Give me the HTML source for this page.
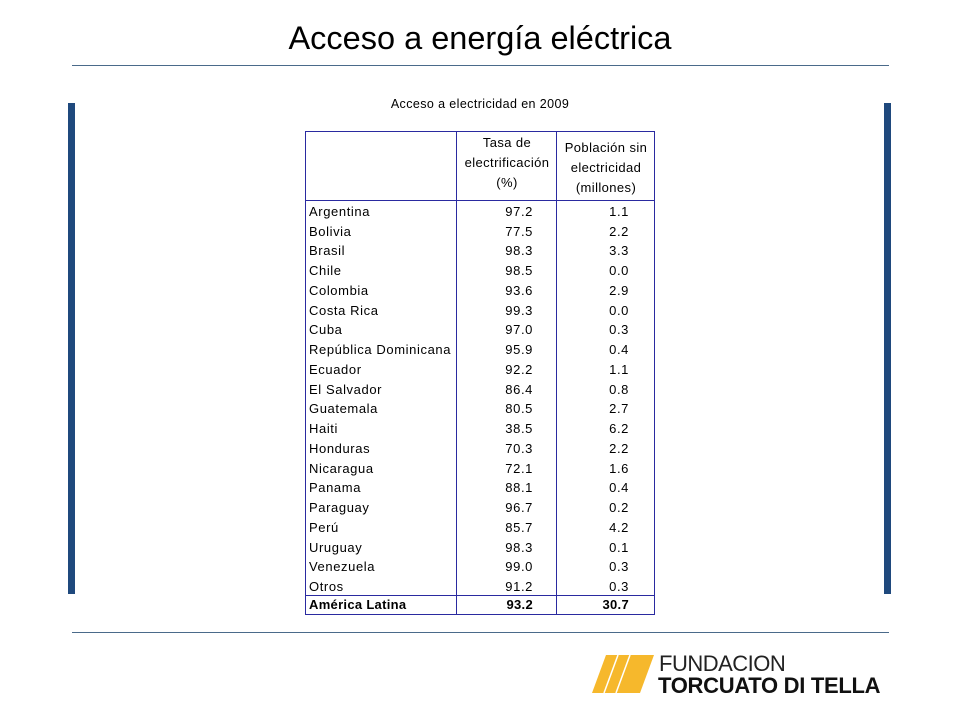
<!DOCTYPE html>
<html><head><meta charset="utf-8"><style>
body{margin:0;width:960px;height:720px;background:#fff;position:relative;overflow:hidden;font-family:"Liberation Sans",sans-serif}
.a{position:absolute}
.t{font-size:13px;color:#000;letter-spacing:0.4px}
.row{position:absolute;left:305px;width:350px;height:19.74px}
.row span{position:absolute;top:3px;font-size:13px;letter-spacing:0.6px}
</style></head><body>
<div class="a" style="left:0;width:960px;top:20px;text-align:center;font-size:32.5px;font-family:'Liberation Sans',sans-serif">Acceso a energía eléctrica</div>
<div class="a" style="left:72px;top:65px;width:817px;height:1px;background:#4a6a8a"></div>
<div class="a" style="left:72px;top:632px;width:817px;height:1px;background:#4a6a8a"></div>
<div class="a" style="left:68px;top:103px;width:7px;height:491px;background:#1f497d"></div>
<div class="a" style="left:884px;top:103px;width:7px;height:491px;background:#1f497d"></div>
<div class="a t" style="left:305px;width:350px;top:97px;text-align:center;font-size:12.5px">Acceso a electricidad en 2009</div>
<div class="a" style="left:305px;top:131px;width:350px;height:484px;border:1px solid #2a2aa0;box-sizing:border-box"></div>
<div class="a" style="left:456px;top:131px;width:1px;height:484px;background:#2a2aa0"></div>
<div class="a" style="left:556px;top:131px;width:1px;height:484px;background:#2a2aa0"></div>
<div class="a" style="left:305px;top:200px;width:350px;height:1px;background:#2a2aa0"></div>
<div class="a" style="left:305px;top:595px;width:350px;height:1px;background:#2a2aa0"></div>
<div class="a t" style="left:457px;width:100px;top:133px;text-align:center;line-height:20px">Tasa de<br>electrificación<br>(%)</div>
<div class="a t" style="left:557px;width:98px;top:138px;text-align:center;line-height:20px">Población sin<br>electricidad<br>(millones)</div>
<div id="rows"></div>
<div class="a" style="left:592px;top:655px;width:62px;height:38px">
<svg width="62" height="38"><polygon points="14,0 62,0 48,38 0,38" fill="#f6b82c"/><line x1="26" y1="0" x2="12" y2="38" stroke="#fff" stroke-width="1.5"/><line x1="38" y1="0" x2="24" y2="38" stroke="#fff" stroke-width="1.5"/></svg></div>
<div class="a" style="left:659px;top:651px;font-size:22px;letter-spacing:-0.5px;color:#222">FUNDACION</div>
<div class="a" style="left:658px;top:673px;font-size:22px;font-weight:bold;letter-spacing:-0.3px;color:#111">TORCUATO DI TELLA</div>
<script>
const countries=["Argentina","Bolivia","Brasil","Chile","Colombia","Costa Rica","Cuba","República Dominicana","Ecuador","El Salvador","Guatemala","Haiti","Honduras","Nicaragua","Panama","Paraguay","Perú","Uruguay","Venezuela","Otros","América Latina"];
const rates=["97.2","77.5","98.3","98.5","93.6","99.3","97.0","95.9","92.2","86.4","80.5","38.5","70.3","72.1","88.1","96.7","85.7","98.3","99.0","91.2","93.2"];
const pops=["1.1","2.2","3.3","0.0","2.9","0.0","0.3","0.4","1.1","0.8","2.7","6.2","2.2","1.6","0.4","0.2","4.2","0.1","0.3","0.3","30.7"];
const c=document.getElementById('rows');
countries.forEach((n,i)=>{
const r=document.createElement('div');r.className='row';


const total=i===countries.length-1;
r.style.top=(total?596:201+i*19.74)+'px';
r.innerHTML='<span style="left:4px">'+n+'</span><span style="right:122px">'+rates[i]+'</span><span style="right:26px">'+pops[i]+'</span>';
if(total)r.querySelectorAll('span').forEach(s=>{s.style.fontWeight='bold';s.style.letterSpacing='0.3px';s.style.top='1px'});
c.appendChild(r);});
</script>
</body></html>
